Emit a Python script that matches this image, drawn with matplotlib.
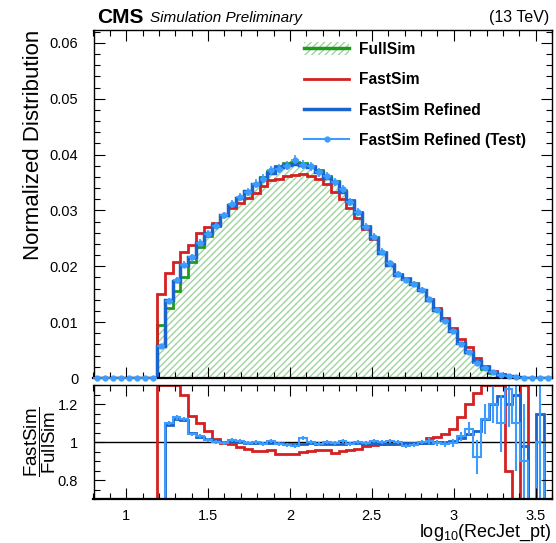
import numpy as np
import matplotlib
matplotlib.use("Agg")
import matplotlib.pyplot as plt
from matplotlib.patches import Patch
from matplotlib.lines import Line2D
from matplotlib.ticker import MultipleLocator, FixedLocator, FixedFormatter

plt.rcParams['font.family'] = ['Liberation Sans', 'DejaVu Sans']
plt.rcParams['mathtext.fontset'] = 'custom'
plt.rcParams['mathtext.rm'] = 'Liberation Sans'
plt.rcParams['mathtext.it'] = 'Liberation Sans:italic'
plt.rcParams['mathtext.bf'] = 'Liberation Sans:bold'

# ---------------- data ----------------
x_min, x_max, n_bins = 0.8, 3.6, 58
n_empty_left = 8

fullsim = [0.0095, 0.0125, 0.0155, 0.0181, 0.0208, 0.0235, 0.0255, 0.0273, 0.0292, 0.0308,
           0.0322, 0.0335, 0.0348, 0.0360, 0.0370, 0.0379, 0.0385, 0.0387, 0.0385, 0.0379,
           0.0372, 0.0362, 0.0353, 0.0337, 0.0318, 0.0297, 0.0272, 0.0252, 0.0226, 0.0204,
           0.0186, 0.0179, 0.0170, 0.0158, 0.0140, 0.0122, 0.0103, 0.0084, 0.0062, 0.0046,
           0.0029, 0.0017, 0.0009, 0.0005, 0.00025, 0.00012, 0.00006, 0.00003, 0.00002, 0.00001]
fastsim = [0.0150, 0.0188, 0.0207, 0.0226, 0.0238, 0.0259, 0.0270, 0.0278, 0.0291, 0.0305,
           0.0314, 0.0322, 0.0332, 0.0343, 0.0354, 0.0356, 0.0361, 0.0363, 0.0365, 0.0361,
           0.0356, 0.0347, 0.0333, 0.0321, 0.0304, 0.0287, 0.0266, 0.0248, 0.0223, 0.0202,
           0.0184, 0.0177, 0.0169, 0.0158, 0.0142, 0.0125, 0.0107, 0.0090, 0.0070, 0.0055,
           0.0036, 0.0022, 0.0012, 0.0007, 0.0003, 0.0001, 0.0, 0.00002, 0.0, 0.0]
refined = [0.0058, 0.0140, 0.0174, 0.0202, 0.0217, 0.0241, 0.0259, 0.0274, 0.0292, 0.0309,
           0.0322, 0.0334, 0.0347, 0.0358, 0.0367, 0.0377, 0.0382, 0.0383, 0.0381, 0.0377,
           0.0369, 0.0358, 0.0350, 0.0333, 0.0316, 0.0295, 0.0270, 0.0250, 0.0224, 0.0202,
           0.0185, 0.0178, 0.0169, 0.0157, 0.0140, 0.0122, 0.0103, 0.0085, 0.0063, 0.0047,
           0.0031, 0.0019, 0.0011, 0.0006, 0.0003, 0.00013, 0.00007, 0.0, 0.00003, 0.0]
refined_test = [0.0057, 0.0138, 0.0175, 0.0203, 0.0216, 0.0242, 0.0258, 0.0273, 0.0291, 0.0311,
                0.0324, 0.0333, 0.0348, 0.0357, 0.0372, 0.0375, 0.0380, 0.0391, 0.0382, 0.0379,
                0.0368, 0.0362, 0.0351, 0.0339, 0.0315, 0.0297, 0.0271, 0.0253, 0.0226, 0.0205,
                0.0186, 0.0175, 0.0168, 0.0158, 0.0141, 0.0121, 0.0102, 0.0084, 0.0061, 0.0046,
                0.0027, 0.0018, 0.0011, 0.0006, 0.0003, 0.00013, 0.00005, 0.0, 0.00002, 0.0]

ratio_fastsim = [1.58, 1.50, 1.34, 1.249, 1.137, 1.101, 1.057, 1.016, 0.995, 0.99,
                 0.975, 0.962, 0.955, 0.952, 0.958, 0.938, 0.936, 0.937, 0.948, 0.952,
                 0.958, 0.958, 0.942, 0.952, 0.956, 0.965, 0.977, 0.985, 0.987, 0.99,
                 0.992, 0.991, 0.995, 0.997, 1.02, 1.025, 1.04, 1.07, 1.13, 1.20,
                 1.26, 1.32, 1.40, 1.45, 0.85, 0.0, 1.5, 0.0, 0.0, 0.0]
ratio_refined = [0.61, 1.09, 1.12, 1.115, 1.045, 1.025, 1.015, 1.004, 1.0, 1.003,
                 1.0, 0.997, 0.997, 0.995, 0.993, 0.996, 0.992, 0.99, 0.99, 0.995,
                 0.992, 0.99, 0.992, 0.99, 0.994, 0.994, 0.992, 0.993, 0.991, 0.991,
                 0.995, 0.996, 0.994, 0.995, 0.995, 0.998, 0.998, 1.005, 1.02, 1.04,
                 1.06, 1.12, 1.20, 1.24, 1.20, 1.25, 0.98, 0.0, 1.15, 0.0]
ratio_test = [0.60, 1.10, 1.13, 1.12, 1.04, 1.03, 1.01, 1.0, 0.995, 1.01,
              1.005, 0.995, 1.0, 0.99, 1.005, 0.99, 0.985, 0.98, 1.02, 1.0,
              0.99, 1.0, 0.995, 1.005, 0.99, 1.0, 0.995, 1.005, 1.0, 1.005,
              1.0, 0.98, 0.985, 1.0, 1.005, 0.995, 0.99, 0.995, 1.03, 1.07,
              0.92, 1.12, 1.20, 1.10, 1.28, 1.10, 0.90, 0.0, 1.0, 0.0]
ratio_test_err = [0.02, 0.012, 0.012, 0.011, 0.01, 0.01, 0.01, 0.01, 0.01, 0.01,
                  0.01, 0.01, 0.01, 0.01, 0.01, 0.01, 0.01, 0.01, 0.01, 0.01,
                  0.01, 0.01, 0.01, 0.01, 0.01, 0.01, 0.01, 0.01, 0.01, 0.01,
                  0.01, 0.012, 0.012, 0.013, 0.014, 0.015, 0.017, 0.02, 0.025, 0.035,
                  0.09, 0.08, 0.10, 0.15, 0.20, 0.25, 0.3, 0.0, 0.3, 0.0]

labels = ["FullSim", "FastSim", "FastSim Refined", "FastSim Refined (Test)"]
x_tick_values = [1, 1.5, 2, 2.5, 3, 3.5]
x_tick_labels = ["1", "1.5", "2", "2.5", "3", "3.5"]
y_tick_values = [0, 0.01, 0.02, 0.03, 0.04, 0.05, 0.06]
y_tick_labels = ["0", "0.01", "0.02", "0.03", "0.04", "0.05", "0.06"]
r_tick_values = [0.8, 1.0, 1.2]
r_tick_labels = ["0.8", "1", "1.2"]

# ---------------- styles ----------------
c_full = '#1f9a1f'
c_hatch = '#9fd49f'
c_fast = '#d42020'
c_ref = '#1a64cc'
c_test = '#3d9dff'

def full(arr):
    return np.concatenate([np.zeros(n_empty_left), np.asarray(arr, float)])

edges = np.linspace(x_min, x_max, n_bins + 1)
centers = 0.5 * (edges[:-1] + edges[1:])
half_w = 0.5 * (edges[1] - edges[0])

h_full, h_fast, h_ref, h_test = map(full, [fullsim, fastsim, refined, refined_test])
r_fast, r_ref, r_test, r_err = map(full, [ratio_fastsim, ratio_refined, ratio_test, ratio_test_err])

W, H = 556, 543
fig = plt.figure(figsize=(W / 100, H / 100), dpi=100)
L, R = 93.5 / W, 552 / W
ax = fig.add_axes([L, 1 - 378 / H, R - L, (378 - 30) / H])
axr = fig.add_axes([L, 1 - 499 / H, R - L, (499 - 385) / H])

# --- top panel ---
ax.stairs(h_full, edges, fill=True, facecolor='none', edgecolor=c_hatch, hatch='/////', linewidth=0)
ax.stairs(h_full, edges, color=c_full, linewidth=2)
ax.stairs(h_fast, edges, color=c_fast, linewidth=2)
ax.stairs(h_ref, edges, color=c_ref, linewidth=2.5)
ax.errorbar(centers, h_test, xerr=half_w, yerr=np.sqrt(np.maximum(h_test, 0)) * 0.004,
            fmt='o', ms=3.5, color=c_test, elinewidth=1.2, capsize=0, clip_on=False, zorder=5)

ax.set_xlim(x_min, x_max)
ax.set_ylim(0, 0.0623)

# --- ratio panel ---
lo, hi = 0.7, 1.3
def clipr(a):
    return np.clip(a, lo, hi)
axr.axhline(1.0, color='black', linewidth=1, zorder=1)
axr.stairs(clipr(r_fast), edges, color=c_fast, linewidth=2, baseline=None)
axr.stairs(clipr(r_ref), edges, color=c_ref, linewidth=2, baseline=None)
axr.stairs(clipr(r_test), edges, color=c_test, linewidth=1.5, baseline=None)
mask = r_test > 0
axr.errorbar(centers[mask], r_test[mask], yerr=r_err[mask], fmt='none', ecolor=c_test,
             elinewidth=1.5, capsize=0)
axr.set_xlim(x_min, x_max)
axr.set_ylim(lo, hi)

# --- ticks ---
for a in (ax, axr):
    a.tick_params(which='both', direction='in', top=True, right=True, width=0.8)
    a.tick_params(which='major', length=8)
    a.tick_params(which='minor', length=4)
    a.xaxis.set_major_locator(FixedLocator(x_tick_values))
    a.xaxis.set_minor_locator(MultipleLocator(0.1))
    for s in a.spines.values():
        s.set_linewidth(1.0)
    a.spines['bottom'].set_linewidth(1.6)
ax.tick_params(labelbottom=False)
ax.yaxis.set_major_locator(FixedLocator(y_tick_values))
ax.yaxis.set_major_formatter(FixedFormatter(y_tick_labels))
ax.yaxis.set_minor_locator(MultipleLocator(0.002))
ax.tick_params(axis='y', labelsize=10.5, pad=11)
axr.xaxis.set_major_formatter(FixedFormatter(x_tick_labels))
axr.yaxis.set_major_locator(FixedLocator(r_tick_values))
axr.yaxis.set_major_formatter(FixedFormatter(r_tick_labels))
axr.yaxis.set_minor_locator(MultipleLocator(0.05))
axr.tick_params(axis='both', labelsize=10.5)
axr.tick_params(axis='y', pad=11)
axr.tick_params(axis='x', pad=7)

# --- labels ---
ax.text(-0.13, 1.0, "Normalized Distribution", transform=ax.transAxes, rotation=90,
        ha='center', va='top', fontsize=16)
axr.text(-0.116, 0.5, r"$\dfrac{\mathrm{FastSim}}{\mathrm{FullSim}}$", transform=axr.transAxes,
         rotation=90, ha='center', va='center', fontsize=13.5)
fig.text(552 / W, 1 - 537 / H, r"log$_{10}$(RecJet_pt)", ha='right', va='baseline', fontsize=13)
fig.text(97 / W, 1 - 23 / H, "CMS", fontsize=15, fontweight='bold', ha='left', va='baseline')
fig.text(150 / W, 1 - 22 / H, "Simulation Preliminary", fontsize=11, style='italic',
         ha='left', va='baseline')
fig.text(549 / W, 1 - 22 / H, "(13 TeV)", fontsize=11.5, ha='right', va='baseline')

# --- legend ---
handles = [
    (Patch(facecolor='none', edgecolor=c_hatch, hatch='/////', linewidth=0),
     Line2D([], [], color=c_full, linewidth=2.5)),
    Line2D([], [], color=c_fast, linewidth=2),
    Line2D([], [], color=c_ref, linewidth=2.5),
    Line2D([], [], color=c_test, linewidth=1.5, marker='o', ms=3.5),
]
leg = ax.legend(handles, labels, loc='upper left', bbox_to_anchor=(0.459, 0.965),
                frameon=False, prop={'weight': 'bold', 'size': 11.2}, handlelength=2.9,
                handleheight=0.9, handletextpad=0.65, labelspacing=0.98, borderpad=0,
                borderaxespad=0)

fig.savefig("out.png", dpi=100)
